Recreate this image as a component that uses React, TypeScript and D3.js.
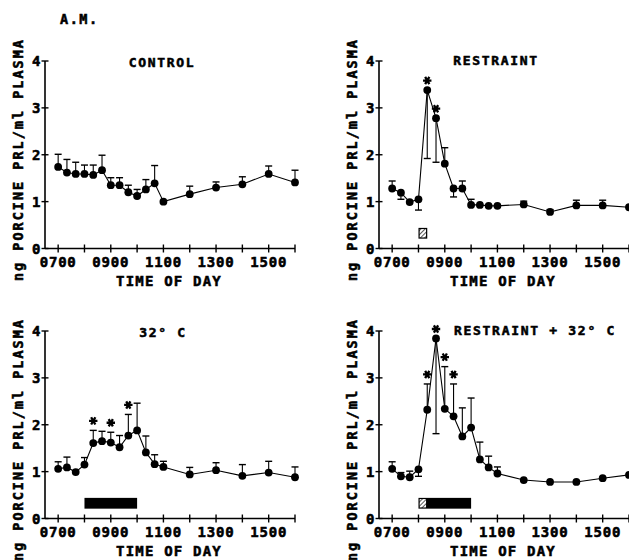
import React from 'react';
import * as d3 from 'd3';

// sampling times (20 min until 1100, then hourly)
const sampleTimes = ['0700', '0720', '0740', '0800', '0820', '0840', '0900', '0920', '0940', '1000', '1020', '1040', '1100', '1200', '1300', '1400', '1500', '1600'];
const tickTimes = ['0700', '0800', '0900', '1000', '1100', '1200', '1300', '1400', '1500', '1600'];
const tickLabels = ['0700', '0900', '1100', '1300', '1500'];
const yTicks = [0, 1, 2, 3, 4];

const panelTitles = ['CONTROL', 'RESTRAINT', '32° C', 'RESTRAINT + 32° C'];

// mean PRL (ng/ml) and the end of each error bar (null = no visible bar)
const controlPrl = [1.74, 1.62, 1.59, 1.59, 1.57, 1.67, 1.35, 1.35, 1.2, 1.12, 1.26, 1.39, 1.0, 1.16, 1.3, 1.37, 1.59, 1.41];
const controlErr = [2.01, 1.9, 1.84, 1.78, 1.78, 1.99, 1.51, 1.51, 1.35, 1.26, 1.47, 1.77, null, 1.33, 1.42, 1.53, 1.76, 1.67];

const restraintPrl = [1.28, 1.19, 0.99, 1.05, 3.38, 2.78, 1.81, 1.28, 1.28, 0.93, 0.93, 0.91, 0.91, 0.94, 0.78, 0.92, 0.92, 0.88];
const restraintErr = [1.44, 1.05, null, 0.82, 1.92, 1.84, 2.15, 1.1, 1.44, 1.05, null, null, null, 1.01, 0.83, 1.03, 1.03, null];

const heatPrl = [1.06, 1.09, 0.99, 1.15, 1.61, 1.65, 1.62, 1.52, 1.77, 1.88, 1.41, 1.16, 1.1, 0.94, 1.03, 0.91, 0.98, 0.88];
const heatErr = [1.21, 1.31, null, 1.3, 1.88, 1.86, 1.84, 1.77, 2.22, 2.46, 1.76, 1.36, 1.22, 1.09, 1.19, 1.15, 1.22, 1.1];

const comboPrl = [1.06, 0.9, 0.88, 1.05, 2.32, 3.84, 2.34, 2.18, 1.75, 1.94, 1.26, 1.09, 0.96, 0.82, 0.78, 0.78, 0.86, 0.93];
const comboErr = [1.21, 0.98, 1.01, 0.9, 2.87, 1.81, 3.24, 2.87, 2.36, 2.57, 1.63, 1.33, 1.1, null, null, null, null, null];

const controlStars: string[] = [];
const restraintStars = ['0820', '0840'];
const heatStars = ['0820', '0900', '0940'];
const comboStars = ['0820', '0840', '0900', '0920'];

// treatment period: [start, end, hatched (restraint) until]
const controlBar: string[] | null = null;
const restraintBar = ['0800', '0820', '0820'];
const heatBar = ['0800', '1000', '0800'];
const comboBar = ['0800', '1000', '0820'];

const toHours = (s: string) => +s.slice(0, 2) + +s.slice(2) / 60;

const FONT = '"DejaVu Sans Mono", monospace';
const plotW = 250;
const plotH = 187.5;

// bold, plotter-like lettering
const txt = { fontFamily: FONT, fontWeight: 'bold' as const, stroke: '#000', strokeWidth: 0.55 };

const panels = [
  { title: panelTitles[0], values: controlPrl, errs: controlErr, stars: controlStars, bar: controlBar, left: 45, top: 61, titleX: 162, titleY: 66.5 },
  { title: panelTitles[1], values: restraintPrl, errs: restraintErr, stars: restraintStars, bar: restraintBar, left: 379, top: 61, titleX: 496, titleY: 65 },
  { title: panelTitles[2], values: heatPrl, errs: heatErr, stars: heatStars, bar: heatBar, left: 45, top: 331, titleX: 163, titleY: 336.5 },
  { title: panelTitles[3], values: comboPrl, errs: comboErr, stars: comboStars, bar: comboBar, left: 379, top: 331, titleX: 535, titleY: 335 },
];

const Star = ({ cx, cy }: { cx: number; cy: number }) => {
  const r = 4.2;
  const path = [0, 60, 120]
    .map((a) => {
      const rad = (a * Math.PI) / 180;
      const dx = r * Math.cos(rad);
      const dy = r * Math.sin(rad);
      return `M${cx - dx},${cy - dy}L${cx + dx},${cy + dy}`;
    })
    .join('');
  return <path d={path} stroke="#000" strokeWidth={2.3} />;
};

const Panel = ({ p, idx }: { p: (typeof panels)[number]; idx: number }) => {
  const x = d3.scaleLinear().domain([6.5, 16]).range([p.left, p.left + plotW]);
  const y = d3.scaleLinear().domain([0, 4]).range([p.top + plotH, p.top]);
  const pts = sampleTimes.map((t, i) => ({ t: toHours(t), v: p.values[i], e: p.errs[i], key: t }));
  const line = d3
    .line<{ t: number; v: number }>()
    .x((d) => x(d.t))
    .y((d) => y(d.v));
  const y0 = y(0);
  const labelTop = p.top < 200 ? 38 : 318;

  return (
    <g>
      {/* axes */}
      <line x1={p.left} x2={p.left} y1={y(0)} y2={y(4)} stroke="#000" strokeWidth={1.6} />
      <line x1={p.left} x2={x(16)} y1={y0} y2={y0} stroke="#000" strokeWidth={1.6} />
      {yTicks.map((v) => (
        <g key={v}>
          <line x1={p.left - 3.5} x2={p.left + 3.5} y1={y(v)} y2={y(v)} stroke="#000" strokeWidth={1.4} />
          <text x={p.left - 4.5} y={y(v)} dy="0.36em" textAnchor="end" fontSize={14} {...txt}>
            {v}
          </text>
        </g>
      ))}
      {tickTimes.map((t) => (
        <line key={t} x1={x(toHours(t))} x2={x(toHours(t))} y1={y0 - 4} y2={y0 + 4} stroke="#000" strokeWidth={1.4} />
      ))}
      {tickLabels.map((t) => (
        <text key={t} x={x(toHours(t))} y={y0 + 18.5} textAnchor="middle" fontSize={14} letterSpacing={0.8} {...txt}>
          {t}
        </text>
      ))}
      <text x={p.left + 124} y={y0 + 37} textAnchor="middle" fontSize={14} letterSpacing={1.2} {...txt}>
        TIME OF DAY
      </text>
      <text transform={`translate(${p.left - 22},${labelTop}) rotate(-90)`} textAnchor="end" fontSize={13.5} letterSpacing={2} {...txt}>
        ng PORCINE PRL/ml PLASMA
      </text>
      <text x={p.titleX} y={p.titleY} textAnchor="middle" fontSize={13} letterSpacing={1.7} {...txt}>
        {p.title}
      </text>

      {/* treatment bar */}
      {p.bar && (
        <g>
          <pattern id={`hatch${idx}`} patternUnits="userSpaceOnUse" width={3} height={3} patternTransform="rotate(45)">
            <rect width={3} height={3} fill="#fff" />
            <line x1={0} x2={0} y1={0} y2={3} stroke="#000" strokeWidth={1.3} />
          </pattern>
          <rect
            x={x(toHours(p.bar[0]))}
            y={y(0.44)}
            width={x(toHours(p.bar[1])) - x(toHours(p.bar[0]))}
            height={y(0.21) - y(0.44)}
            fill="#000"
          />
          {toHours(p.bar[2]) > toHours(p.bar[0]) && (
            <rect
              x={x(toHours(p.bar[0])) + 1.2}
              y={y(0.44) + 1.2}
              width={x(toHours(p.bar[2])) - x(toHours(p.bar[0])) - 2.4}
              height={y(0.21) - y(0.44) - 2.4}
              fill={`url(#hatch${idx})`}
            />
          )}
        </g>
      )}

      {/* error bars */}
      {pts
        .filter((d) => d.e !== null)
        .map((d) => (
          <g key={d.key}>
            <line x1={x(d.t)} x2={x(d.t)} y1={y(d.v)} y2={y(d.e as number)} stroke="#000" strokeWidth={1.1} />
            <line x1={x(d.t) - 3.5} x2={x(d.t) + 3.5} y1={y(d.e as number)} y2={y(d.e as number)} stroke="#000" strokeWidth={1.4} />
          </g>
        ))}

      <path d={line(pts) || ''} fill="none" stroke="#000" strokeWidth={1.1} />
      {pts.map((d) => (
        <circle key={d.key} cx={x(d.t)} cy={y(d.v)} r={3.9} fill="#000" />
      ))}

      {p.stars.map((s) => {
        const d = pts.find((q) => q.key === s)!;
        const top = Math.max(d.v, d.e ?? d.v);
        return <Star key={s} cx={x(d.t)} cy={y(top) - 9.5} />;
      })}
    </g>
  );
};

export default function App() {
  return (
    <svg width={629} height={560} style={{ position: 'absolute', left: 0, top: 0, background: '#fff' }}>
      <rect width={629} height={560} fill="#fff" />
      <text x={60} y={23.5} fontSize={13.5} letterSpacing={1.5} {...txt}>
        A.M.
      </text>
      {panels.map((p, i) => (
        <Panel key={i} p={p} idx={i} />
      ))}
    </svg>
  );
}
